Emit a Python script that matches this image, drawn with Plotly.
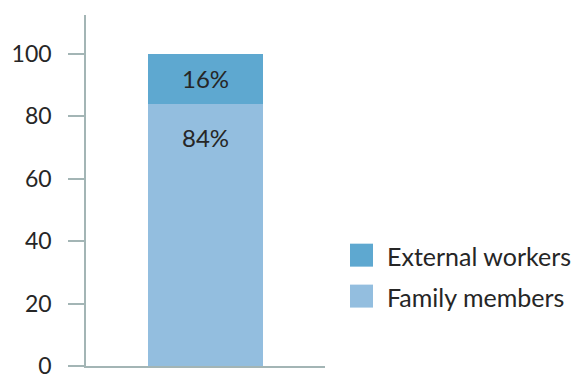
import plotly.graph_objects as go

categories = ["Workers"]
series_names = ["Family members", "External workers"]
family_values = [84]
external_values = [16]
tick_values = [0, 20, 40, 60, 80, 100]
tick_labels = ["0", "20", "40", "60", "80", "100"]

colors = {"Family members": "#93BEDF", "External workers": "#5EA8D0"}
axis_color = "#A3B5B5"
text_color = "#262626"
FONT = "Lato, 'Open Sans', sans-serif"

fig = go.Figure()
fig.add_trace(go.Bar(x=categories, y=family_values, name=series_names[0],
                     marker=dict(color=colors[series_names[0]], line=dict(width=0)),
                     showlegend=False, hoverinfo="skip"))
fig.add_trace(go.Bar(x=categories, y=external_values, name=series_names[1],
                     marker=dict(color=colors[series_names[1]], line=dict(width=0)),
                     showlegend=False, hoverinfo="skip"))

# value labels
annotations = []
annotations.append(dict(x=categories[0], y=family_values[0] + external_values[0] / 2,
                        text=f"{external_values[0]}%", showarrow=False,
                        font=dict(size=24, color=text_color, family=FONT),
                        xref="x", yref="y"))
annotations.append(dict(x=categories[0], y=family_values[0], yshift=-34,
                        text=f"{family_values[0]}%", showarrow=False,
                        font=dict(size=24, color=text_color, family=FONT),
                        xref="x", yref="y"))

# manual legend (top item = External workers)
shapes = []
legend_items = [series_names[1], series_names[0]]
for i, name in enumerate(legend_items):
    y0 = 244 + i * 41
    shapes.append(dict(type="rect", xref="paper", yref="paper",
                       x0=(350 - 86) / 239, x1=(373 - 86) / 239,
                       y0=(366.5 - (y0 + 23)) / 351.5, y1=(366.5 - y0) / 351.5,
                       fillcolor=colors[name], line=dict(width=0)))
    annotations.append(dict(xref="paper", yref="paper",
                            x=(385 - 86) / 239, y=(366.5 - (y0 + 12)) / 351.5,
                            xanchor="left", yanchor="middle", text=name,
                            showarrow=False,
                            font=dict(size=25, color=text_color, family=FONT)))

fig.update_layout(
    barmode="stack",
    bargap=0.515,
    width=575, height=374,
    margin=dict(l=86, r=250, t=15, b=7.5, autoexpand=False),
    paper_bgcolor="white", plot_bgcolor="white",
    font=dict(family=FONT, size=23, color=text_color),
    hovermode=False,
    xaxis=dict(showticklabels=False, showgrid=False, zeroline=False,
               showline=True, linecolor=axis_color, linewidth=1.5, ticks=""),
    yaxis=dict(range=[0, 112.5], tickvals=tick_values, ticktext=tick_labels,
               showgrid=False, zeroline=False, showline=True,
               linecolor=axis_color, linewidth=1.5,
               ticks="outside", ticklen=16, tickwidth=1.5, tickcolor=axis_color,
               ticklabelstandoff=12, ticklabeloverflow="allow",
               tickfont=dict(size=23, color=text_color, family=FONT)),
    shapes=shapes,
    annotations=annotations,
)

fig.write_html("out.html", config={"displayModeBar": False},
               post_script="document.body.style.margin='0';")
